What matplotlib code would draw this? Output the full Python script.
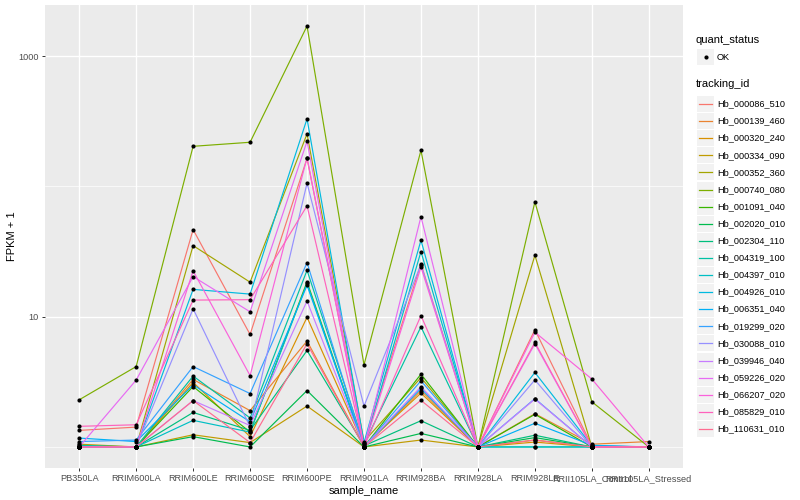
import numpy as np
import matplotlib
matplotlib.use("Agg")
import matplotlib.pyplot as plt
from matplotlib.lines import Line2D
from matplotlib.patches import Rectangle
from matplotlib.ticker import NullFormatter

samples = ["PB350LA", "RRIM600LA", "RRIM600LE", "RRIM600SE", "RRIM600PE", "RRIM901LA",
           "RRIM928BA", "RRIM928LA", "RRIM928LE", "RRII105LA_Control", "RRII105LA_Stressed"]

tracking_ids = ["Hb_000086_510", "Hb_000139_460", "Hb_000320_240", "Hb_000334_090",
                "Hb_000352_360", "Hb_000740_080", "Hb_001091_040", "Hb_002020_010",
                "Hb_002304_110", "Hb_004319_100", "Hb_004397_010", "Hb_004926_010",
                "Hb_006351_040", "Hb_019299_020", "Hb_030088_010", "Hb_039946_040",
                "Hb_059226_020", "Hb_066207_020", "Hb_085829_010", "Hb_110631_010"]

# FPKM + 1 per sample
hb_000086_510 = [1.34, 1.42, 46.6, 7.3, 164, 1.05, 25.5, 1.0, 7.94, 1.02, 1.0]
hb_000139_460 = [1.02, 1.0, 3.3, 1.9, 6.5, 1.0, 2.71, 1.0, 1.80, 1.05, 1.1]
hb_000320_240 = [1.0, 1.0, 3.13, 1.2, 9.9, 1.02, 2.59, 1.0, 1.09, 1.0, 1.0]
hb_000334_090 = [1.05, 1.0, 1.24, 1.08, 2.06, 1.0, 1.13, 1.0, 1.13, 1.0, 1.0]
hb_000352_360 = [1.0, 1.0, 35.1, 18.4, 253, 1.1, 3.41, 1.0, 29.6, 1.0, 1.0]
hb_000740_080 = [2.3, 4.14, 203, 218, 1700, 4.27, 189, 1.0, 76, 2.22, 1.0]
hb_001091_040 = [1.0, 1.0, 2.91, 1.3, 18.5, 1.0, 3.62, 1.0, 1.78, 1.0, 1.0]
hb_002020_010 = [1.0, 1.0, 1.2, 1.0, 2.71, 1.0, 1.27, 1.0, 1.18, 1.0, 1.0]
hb_002304_110 = [1.0, 1.0, 1.84, 1.34, 5.5, 1.02, 1.59, 1.0, 1.23, 1.0, 1.0]
hb_004319_100 = [1.03, 1.0, 3.5, 1.67, 22.7, 1.05, 8.36, 1.0, 1.0, 1.0, 1.0]
hb_004397_010 = [1.0, 1.0, 1.6, 1.3, 18.0, 1.0, 31.6, 1.0, 1.0, 1.0, 1.0]
hb_004926_010 = [1.0, 1.0, 16.2, 14.9, 330, 1.08, 38.6, 1.0, 3.73, 1.02, 1.0]
hb_006351_040 = [1.17, 1.1, 3.0, 1.56, 17.4, 1.0, 2.81, 1.0, 1.52, 1.03, 1.0]
hb_019299_020 = [1.1, 1.13, 4.14, 2.57, 26, 1.0, 3.22, 1.0, 2.35, 1.0, 1.0]
hb_030088_010 = [1.0, 1.0, 11.5, 1.43, 106, 2.06, 25.1, 1.0, 3.27, 1.0, 1.0]
hb_039946_040 = [1.0, 1.0, 2.27, 1.46, 13.2, 1.0, 2.9, 1.0, 2.33, 1.0, 1.0]
hb_059226_020 = [1.0, 3.26, 20.3, 10.9, 222, 1.0, 58.6, 1.0, 6.2, 1.0, 1.0]
hb_066207_020 = [1.0, 1.0, 22.5, 3.53, 166, 1.0, 24.0, 1.0, 7.6, 3.32, 1.0]
hb_085829_010 = [1.44, 1.48, 13.4, 13.5, 71, 1.0, 10.2, 1.0, 6.35, 1.0, 1.0]
hb_110631_010 = [1.0, 1.0, 2.27, 1.08, 6.2, 1.0, 2.28, 1.0, 1.13, 1.0, 1.0]

fpkm = [hb_000086_510, hb_000139_460, hb_000320_240, hb_000334_090, hb_000352_360,
        hb_000740_080, hb_001091_040, hb_002020_010, hb_002304_110, hb_004319_100,
        hb_004397_010, hb_004926_010, hb_006351_040, hb_019299_020, hb_030088_010,
        hb_039946_040, hb_059226_020, hb_066207_020, hb_085829_010, hb_110631_010]

# ggplot hue palette for 20 levels
colors = ["#F8766D", "#EA8331", "#D89000", "#C09B00", "#A3A500", "#7CAE00", "#39B600",
          "#00BB4E", "#00BF7D", "#00C1A3", "#00BFC4", "#00BAE0", "#00B0F6", "#35A2FF",
          "#9590FF", "#C77CFF", "#E76BF3", "#FA62DB", "#FF62BC", "#FF6C91"]

plt.rcParams["font.family"] = ["Liberation Sans", "DejaVu Sans"]
W, H = 800, 500
fig = plt.figure(figsize=(W / 100, H / 100), dpi=100)
ax = fig.add_axes([45 / W, 1 - 468 / H, 638 / W, 463 / H])
ax.set_facecolor("#EBEBEB")
for s in ax.spines.values():
    s.set_visible(False)

x = np.arange(len(samples))
for vals, c in zip(fpkm, colors):
    ax.plot(x, vals, color=c, lw=0.85, zorder=2)
for vals in fpkm:
    ax.plot(x, vals, "o", color="black", ms=3, mec="none", zorder=3)

ax.set_yscale("log")
allv = np.log10(np.concatenate([np.array(v) for v in fpkm]))
lo, hi = allv.min(), allv.max()
pad = (hi - lo) * 0.05
ax.set_ylim(10 ** (lo - pad), 10 ** (hi + pad))
ax.set_xlim(-0.6, len(samples) - 0.4)

ax.set_yticks([10, 1000])
ax.set_yticklabels(["10", "1000"])
ax.set_yticks([1, 100], minor=True)
ax.yaxis.set_minor_formatter(NullFormatter())
ax.set_xticks(x)
ax.set_xticklabels(samples)
ax.grid(which="major", color="white", lw=1.0, zorder=0)
ax.grid(which="minor", axis="y", color="white", lw=0.5, zorder=0)
ax.set_axisbelow(True)
ax.tick_params(which="major", length=2.5, width=0.7, color="#333333", labelcolor="#4D4D4D",
               labelsize=6.6, pad=1.8)
ax.tick_params(which="minor", length=0)
ax.set_xlabel("sample_name", fontsize=8, labelpad=2)
ax.set_ylabel("FPKM + 1", fontsize=8, labelpad=1)

# legends drawn by hand in pixel positions
def fx(px):
    return px / W

def fy(py):
    return 1 - py / H

fig.text(fx(696), fy(40), "quant_status", fontsize=8, va="center", ha="left")
fig.add_artist(Rectangle((fx(697), fy(65)), 17 / W, 16 / H, transform=fig.transFigure,
                         facecolor="#F2F2F2", edgecolor="none"))
fig.add_artist(Line2D([fx(705.5)], [fy(57)], marker="o", ms=3, color="black", mec="none",
                      transform=fig.transFigure))
fig.text(fx(717), fy(57), "OK", fontsize=6.6, va="center", ha="left")

fig.text(fx(696), fy(84), "tracking_id", fontsize=8, va="center", ha="left")
for i, (name, c) in enumerate(zip(tracking_ids, colors)):
    cy = 104 + i * 17.1
    fig.add_artist(Rectangle((fx(697), fy(cy + 8)), 17 / W, 16 / H, transform=fig.transFigure,
                             facecolor="#F2F2F2", edgecolor="none"))
    fig.add_artist(Line2D([fx(699), fx(712)], [fy(cy), fy(cy)], color=c, lw=0.9,
                          transform=fig.transFigure))
    fig.text(fx(717), fy(cy), name, fontsize=6.6, va="center", ha="left")

fig.savefig("out.png", dpi=100)
